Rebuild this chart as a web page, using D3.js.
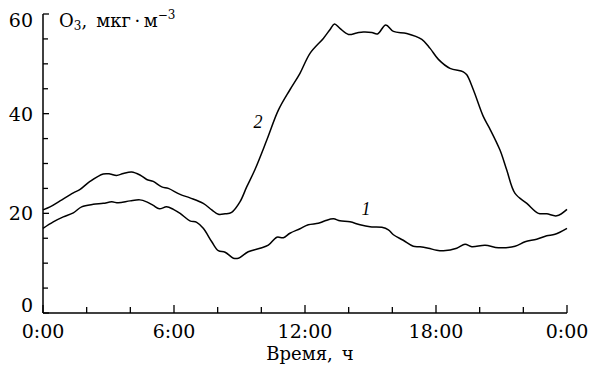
<!DOCTYPE html>
<html>
<head>
<meta charset="utf-8">
<script src="https://cdn.jsdelivr.net/npm/d3@7"></script>
<style>
  body { margin: 0; background: #fff; }
  svg { display: block; font-family: "DejaVu Serif", serif; }
</style>
</head>
<body>
<div id="chart"></div>
<script>
// hours of day and O3 values, curve 1 (lower)
var hours1 = [0, 0.47, 0.93, 1.39, 1.77, 2.3, 2.76, 3.15, 3.45, 3.99, 4.44, 4.75, 5.05, 5.33, 5.66, 5.97,
  6.28, 6.73, 7.04, 7.34, 7.73, 8.03, 8.34, 8.72, 8.95, 9.4, 9.94, 10.32, 10.71, 11.01, 11.31, 11.77,
  12.15, 12.61, 12.92, 13.3, 13.6, 14.06, 14.52, 14.98, 15.52, 15.82, 16.05, 16.5, 16.96, 17.27, 17.65,
  18.03, 18.34, 18.95, 19.33, 19.64, 20.25, 20.86, 21.62, 22.08, 22.61, 23.07, 23.45, 24];
var o3_1 = [17.0, 18.3, 19.3, 20.1, 21.3, 21.8, 22.0, 22.3, 22.1, 22.5, 22.7, 22.3, 21.6, 20.9, 21.3, 20.8,
  20.0, 18.5, 18.2, 17.0, 14.3, 12.5, 12.2, 11.0, 11.0, 12.3, 13.0, 13.6, 15.2, 15.1, 16.0, 16.9,
  17.7, 18.0, 18.5, 18.9, 18.5, 18.3, 17.7, 17.3, 17.2, 16.7, 15.7, 14.6, 13.4, 13.3, 13.0,
  12.6, 12.5, 13.0, 13.8, 13.3, 13.6, 13.1, 13.4, 14.3, 14.8, 15.5, 15.8, 17.0];

// curve 2 (upper)
var hours2 = [0, 0.32, 0.78, 1.39, 1.7, 2.15, 2.76, 3.07, 3.37, 3.68, 4.06, 4.44, 4.75, 5.05, 5.44, 5.74,
  6.28, 6.73, 7.34, 7.73, 8.03, 8.34, 8.64, 9.02, 9.33, 9.71, 10.25, 10.78, 11.31, 11.77, 12.23, 12.84,
  13.15, 13.35, 13.6, 13.99, 14.37, 14.67, 15.06, 15.32, 15.7, 16.05, 16.66, 17.35, 17.73, 18.11, 18.64,
  19.25, 19.41, 19.71, 20.17, 20.45, 20.93, 21.24, 21.62, 22.16, 22.69, 23.07, 23.53, 24];
var o3_2 = [20.7, 21.3, 22.5, 24.1, 24.8, 26.4, 27.9, 27.9, 27.6, 28.0, 28.3, 27.7, 26.8, 26.4, 25.3, 25.0,
  23.8, 23.1, 22.0, 20.7, 19.8, 19.9, 20.2, 22.3, 25.3, 28.8, 34.7, 40.7, 44.8, 48.1, 52.1, 55.1,
  56.9, 58.0, 57.1, 55.9, 56.2, 56.4, 56.3, 56.0, 57.8, 56.5, 56.1, 54.9, 53.1, 50.9, 49.1,
  48.4, 47.8, 44.8, 39.4, 37.1, 32.7, 28.7, 24.0, 22.0, 20.0, 19.9, 19.5, 20.8];

var xTicks = [0, 6, 12, 18, 24];
var xTickLabels = ["0:00", "6:00", "12:00", "18:00", "0:00"];
var yTicks = [0, 20, 40, 60];

var W = 589, H = 365;
var x = d3.scaleLinear().domain([0, 24]).range([43, 567]);
var y = d3.scaleLinear().domain([0, 60]).range([313, 14]);

var svg = d3.select("#chart").append("svg")
  .attr("width", W).attr("height", H);

// axes lines
svg.append("line").attr("x1", x(0)).attr("x2", x(0)).attr("y1", y(60)).attr("y2", y(0))
  .attr("stroke", "#000").attr("stroke-width", 1.5);
svg.append("line").attr("x1", x(0)).attr("x2", x(24)).attr("y1", y(0)).attr("y2", y(0))
  .attr("stroke", "#000").attr("stroke-width", 1.5);

// x ticks (inward)
svg.append("g").selectAll("line")
  .data(d3.range(0, 25, 2))
  .enter().append("line")
    .attr("x1", function(d) { return x(d); })
    .attr("x2", function(d) { return x(d); })
    .attr("y1", y(0))
    .attr("y2", function(d) { return y(0) - (d % 6 === 0 ? 8 : 6); })
    .attr("stroke", "#000").attr("stroke-width", 1.3);

// y ticks (inward)
svg.append("g").selectAll("line")
  .data(d3.range(0, 61, 5))
  .enter().append("line")
    .attr("x1", x(0))
    .attr("x2", function(d) { return x(0) + (d % 20 === 0 ? 6 : 5); })
    .attr("y1", function(d) { return y(d); })
    .attr("y2", function(d) { return y(d); })
    .attr("stroke", "#000").attr("stroke-width", 1.3);

// tick labels
svg.append("g").selectAll("text")
  .data(xTicks)
  .enter().append("text")
    .attr("x", function(d) { return x(d); })
    .attr("y", 338)
    .attr("text-anchor", "middle")
    .attr("font-size", 19)
    .text(function(d, i) { return xTickLabels[i]; });

svg.append("g").selectAll("text")
  .data(yTicks)
  .enter().append("text")
    .attr("x", 33)
    .attr("y", function(d) { return y(d) + (d === 0 ? -1 : d === 60 ? 13 : 7); })
    .attr("text-anchor", "end")
    .attr("font-size", 19)
    .text(function(d) { return d; });

// axis titles
svg.append("text")
  .attr("x", 310).attr("y", 360)
  .attr("text-anchor", "middle")
  .attr("font-size", 18)
  .text("Время,\u2002ч");

var yt = svg.append("text").attr("x", 59).attr("y", 27).attr("font-size", 18);
yt.append("tspan").text("O");
yt.append("tspan").attr("font-size", 12).attr("dy", 3).text("3");
yt.append("tspan").attr("dy", -3).text(",\u2002мкг\u2009\u00b7\u2009м");
yt.append("tspan").attr("font-size", 12).attr("dy", -8).text("\u22123");

// curves
var line = d3.line()
  .x(function(d) { return x(d[0]); })
  .y(function(d) { return y(d[1]); })
  .curve(d3.curveCatmullRom);

svg.append("path")
  .datum(d3.zip(hours1, o3_1))
  .attr("d", line)
  .attr("fill", "none").attr("stroke", "#000").attr("stroke-width", 1.5);

svg.append("path")
  .datum(d3.zip(hours2, o3_2))
  .attr("d", line)
  .attr("fill", "none").attr("stroke", "#000").attr("stroke-width", 1.5);

// curve labels
svg.append("text").attr("x", 258).attr("y", 128)
  .attr("text-anchor", "middle").attr("font-size", 18).attr("font-style", "italic")
  .attr("font-family", "Liberation Serif, serif").text("2");
svg.append("text").attr("x", 366).attr("y", 215)
  .attr("text-anchor", "middle").attr("font-size", 18).attr("font-style", "italic")
  .attr("font-family", "Liberation Serif, serif").text("1");
</script>
</body>
</html>
